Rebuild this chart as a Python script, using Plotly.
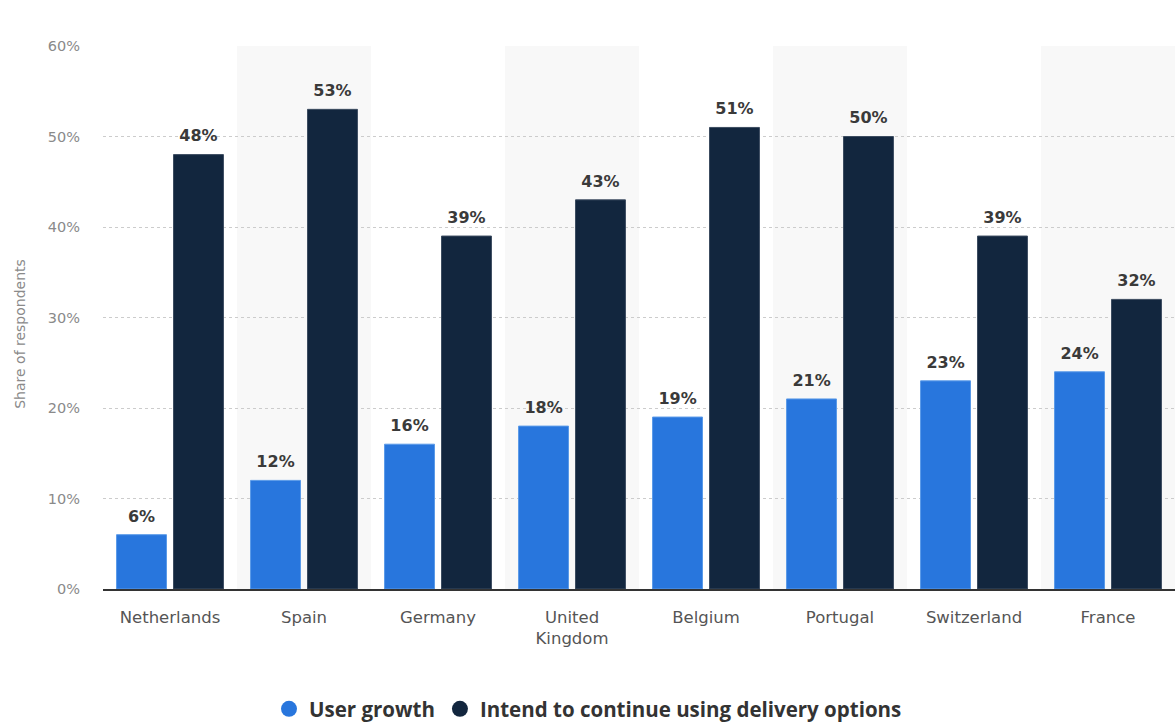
import plotly.graph_objects as go

countries = ["Netherlands", "Spain", "Germany", "United<br>Kingdom", "Belgium", "Portugal", "Switzerland", "France"]
user_growth = [6, 12, 16, 18, 19, 21, 23, 24]
intend_continue = [48, 53, 39, 43, 51, 50, 39, 32]
y_ticks = [0, 10, 20, 30, 40, 50, 60]
y_tick_labels = ["0%", "10%", "20%", "30%", "40%", "50%", "60%"]
y_title = "Share of respondents"

BLUE = "#2876DD"
DARK = "#12263E"
FONT = "DejaVu Sans"

series = [
    ("User growth", user_growth, BLUE, "#5a9ae8", "a"),
    ("Intend to continue using delivery options", intend_continue, DARK, "#3c4c60", "b"),
]

fig = go.Figure()
for name, vals, col, edge, grp in series:
    fig.add_trace(go.Bar(
        x=countries, y=vals, name=name, marker_color=col,
        marker_line=dict(color=edge, width=1), offsetgroup=grp,
        showlegend=False, hoverinfo="x+y",
    ))
for name, vals, col, edge, grp in series:
    fig.add_trace(go.Scatter(
        x=countries, y=vals, mode="markers+text", offsetgroup=grp,
        text=[f"{v}%" for v in vals], textposition="top center",
        marker=dict(size=13, opacity=0), cliponaxis=False,
        textfont=dict(family=FONT, size=16, color="#3a3a3a", weight="bold"),
        showlegend=False, hoverinfo="skip",
    ))
for name, vals, col, edge, grp in series:
    fig.add_trace(go.Scatter(x=[None], y=[None], mode="markers", name=name, offsetgroup=grp,
                             marker=dict(symbol="circle", size=20, color=col)))

shapes = []
for i in range(len(countries)):
    if i % 2 == 1:
        shapes.append(dict(type="rect", xref="x", yref="paper", x0=i - 0.5, x1=i + 0.5,
                           y0=0, y1=1, fillcolor="#f8f8f8", line_width=0, layer="below"))
fig.update_layout(
    shapes=shapes,
    width=1176, height=722,
    margin=dict(l=103, r=1, t=46, b=133),
    paper_bgcolor="white", plot_bgcolor="white",
    barmode="group", bargap=0.15, bargroupgap=0.123,
    scattermode="group", scattergap=0.15,
    font=dict(family=FONT, color="#555"),
    xaxis=dict(tickfont=dict(size=16.5, color="#555"), showline=True, linecolor="#333",
               linewidth=2, ticks="", range=[-0.5, len(countries) - 0.5],
               automargin=False, ticklabelstandoff=12),
    yaxis=dict(range=[0, 60], tickvals=y_ticks, ticktext=y_tick_labels,
               tickfont=dict(size=14.5, color="#8a8a8a"), showgrid=True, gridcolor="#cccccc",
               griddash="dot", gridwidth=1, zeroline=False, automargin=False,
               ticklabelstandoff=22),
    annotations=[dict(text=y_title, xref="paper", yref="paper", x=-83 / 1072, y=0.47,
                      xanchor="center", yanchor="middle", textangle=-90, showarrow=False,
                      font=dict(size=14, color="#8a8a8a", family=FONT))],
    legend=dict(orientation="h", x=0.5, xanchor="center", xref="container",
                y=(722 - 709) / 722, yanchor="middle", yref="container",
                font=dict(size=20.5, color="#333", weight="bold", family="Open Sans"),
                itemsizing="trace"),
)
fig.write_html("out.html")
